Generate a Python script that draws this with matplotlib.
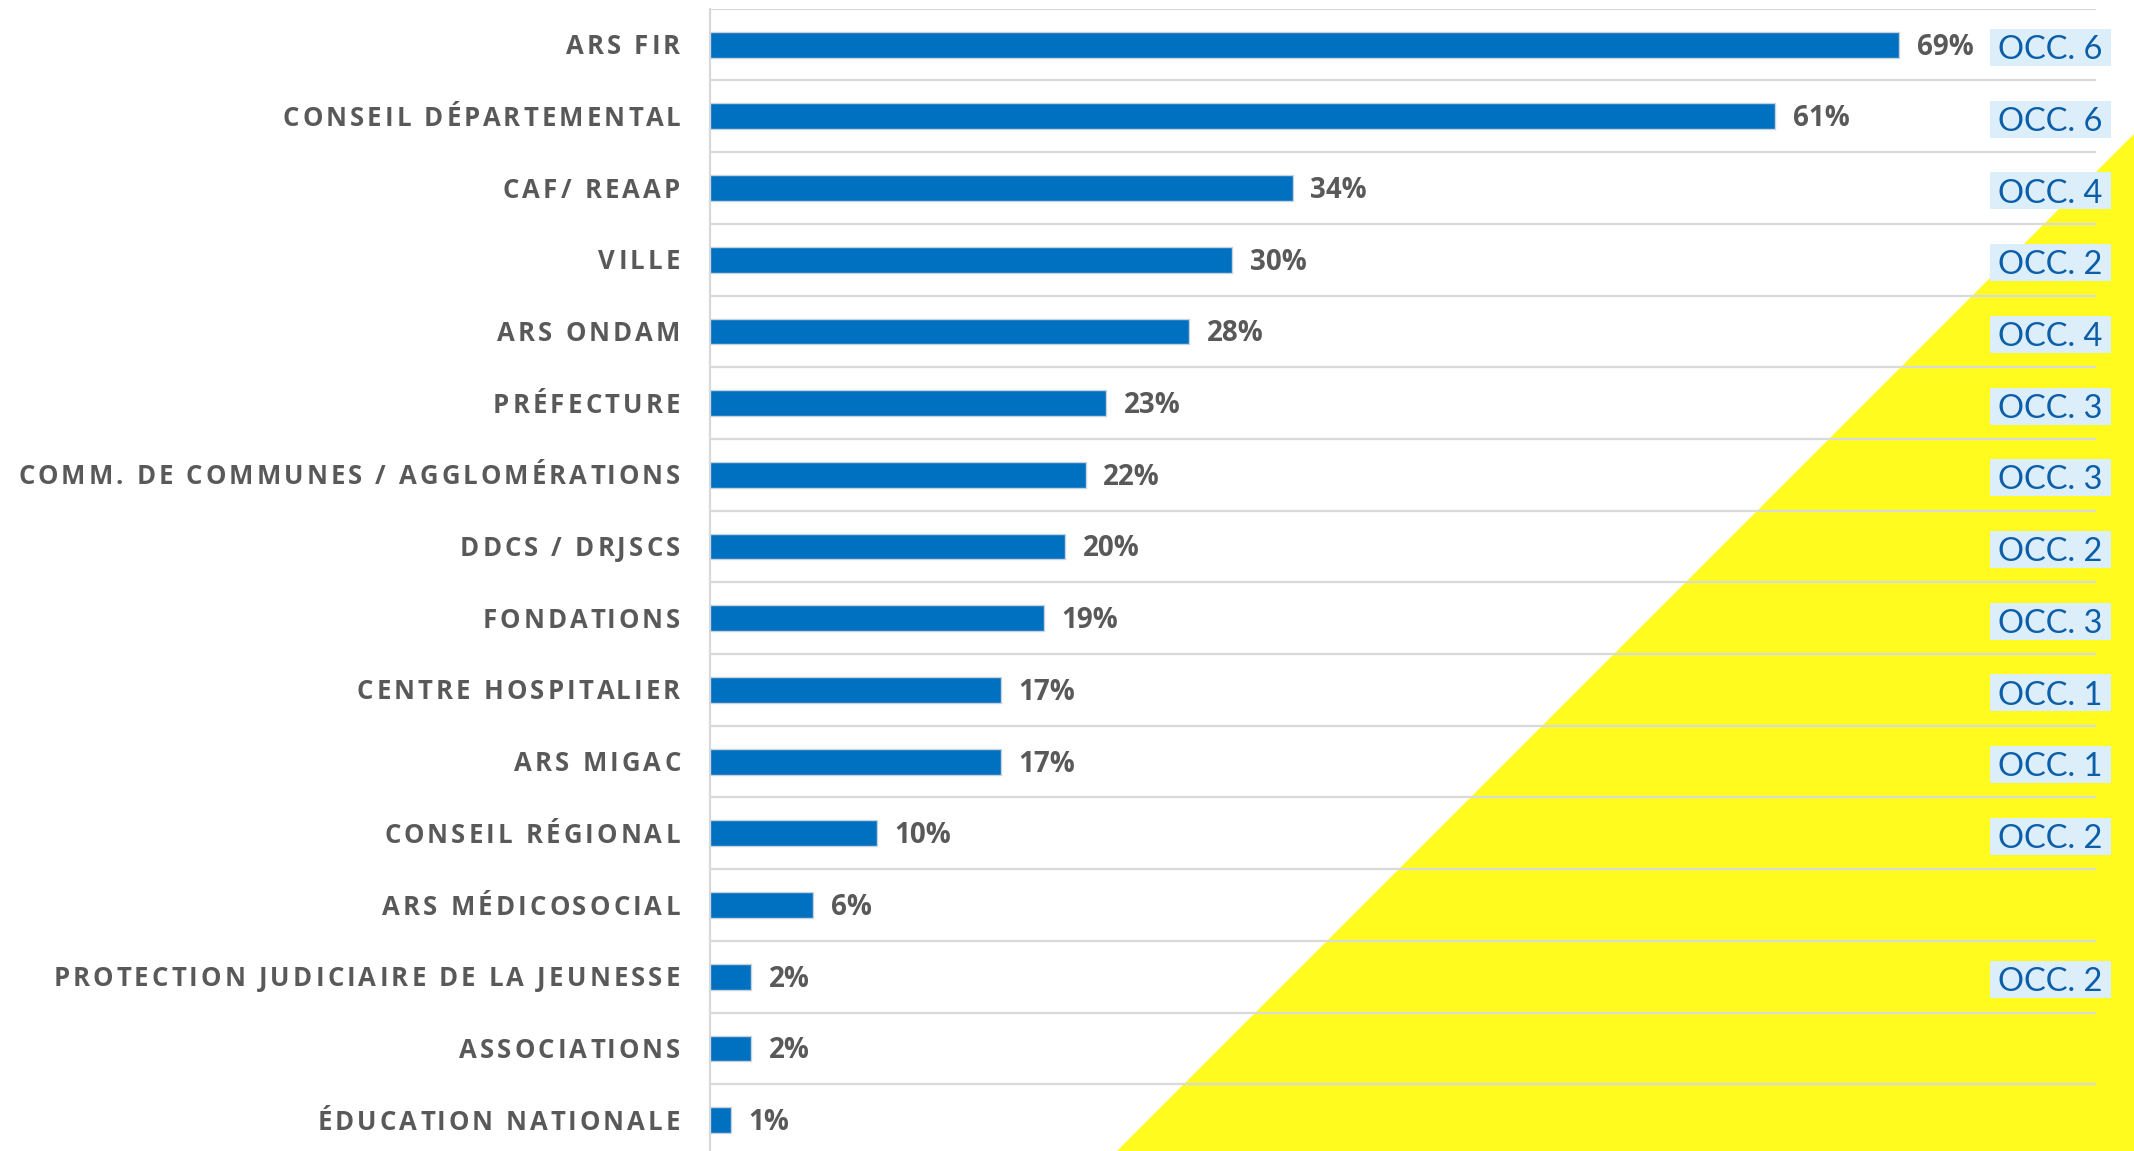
import numpy as np
import matplotlib
matplotlib.use('Agg')
import matplotlib.pyplot as plt
from matplotlib.font_manager import FontProperties
from matplotlib.patches import Polygon, Rectangle
from matplotlib.transforms import blended_transform_factory

labels = ['ARS FIR', 'CONSEIL DÉPARTEMENTAL', 'CAF/ REAAP', 'VILLE', 'ARS ONDAM',
          'PRÉFECTURE', 'COMM. DE COMMUNES / AGGLOMÉRATIONS', 'DDCS / DRJSCS',
          'FONDATIONS', 'CENTRE HOSPITALIER', 'ARS MIGAC', 'CONSEIL RÉGIONAL',
          'ARS MÉDICOSOCIAL', 'PROTECTION JUDICIAIRE DE LA JEUNESSE',
          'ASSOCIATIONS', 'ÉDUCATION NATIONALE']
# bar lengths as measured on the chart, and the rounded labels it prints
values = [69.0, 61.8, 33.8, 30.3, 27.8, 23.0, 21.8, 20.6, 19.4, 16.9, 16.9, 9.7, 6.0, 2.4, 2.4, 1.2]
pct_labels = [69, 61, 34, 30, 28, 23, 22, 20, 19, 17, 17, 10, 6, 2, 2, 1]
occ = [6, 6, 4, 2, 4, 3, 3, 2, 3, 1, 1, 2, None, 2, None, None]

W, H = 2134, 1151
GREY = '#595959'
fig = plt.figure(figsize=(W / 100, H / 100), dpi=100)

# yellow corner behind everything
fig.add_artist(Polygon([(1117 / W, 0), (1, 0), (1, 1 - 134 / H)], closed=True,
                       transform=fig.transFigure, fc='#FFFB1F', ec='none', zorder=-1))

ax = fig.add_axes([710 / W, 1 - 1156 / H, 1386 / W, 1147.2 / H])
ax.patch.set_alpha(0)
n = len(labels)
y = np.arange(n)
xmax = 80.4

ax.barh(y, values, height=0.36, color='#0070C0', edgecolor='#C8D2DC', linewidth=1, zorder=3)
ax.hlines(np.arange(n + 1) - 0.5, 0, xmax, color='#D9D9D9', lw=1.6, zorder=1)
ax.set_xlim(0, xmax)
ax.set_ylim(n - 0.5, -0.5)
for s in ['top', 'right', 'bottom']:
    ax.spines[s].set_visible(False)
ax.spines['left'].set_color('#D9D9D9')
ax.spines['left'].set_linewidth(1.6)
ax.set_xticks([])
ax.set_yticks([])

# percent labels
pct_fp = FontProperties(family='Open Sans', weight='bold', size=20)
for i, (v, p) in enumerate(zip(values, pct_labels)):
    ax.annotate(f'{p}%', xy=(v, i), xytext=(12.5, -0.714 * 20 / 2), textcoords='offset points',
                ha='left', va='baseline', fontproperties=pct_fp, color=GREY)

# OCC. tags on the right
occ_fp = FontProperties(family='Lato', size=23.5)
trans = blended_transform_factory(ax.transAxes, ax.transData)
for i, k in enumerate(occ):
    if k is None:
        continue
    ax.add_patch(Rectangle((1280 / 1386, i - 0.258 + 0.04), 121 / 1386, 0.516, transform=trans,
                           fc='#DDEEFB', ec='none', clip_on=False, zorder=4))
    ax.annotate(f'OCC. {k}', xy=(1340 / 1386, i + 0.04), xycoords=('axes fraction', 'data'),
                xytext=(0, -0.72 * 23.5 / 2), textcoords='offset points', ha='center',
                va='baseline', fontproperties=occ_fp, color='#0B5EA8', zorder=5)

# category labels with letter spacing, drawn char by char
fig.canvas.draw()
r = fig.canvas.get_renderer()
cat_fp = FontProperties(family='Open Sans', weight='bold', size=18.5)


def ink_w(s):
    return r.get_text_width_height_descent(s, cat_fp, ismath=False)[0]


def adv(s):
    return ink_w('H' + s + 'H') - ink_w('HH')


ref = labels[6]
track = (662 - adv(ref)) / (len(ref) - 1)
capH = r.get_text_width_height_descent('H', cat_fp, ismath=False)[1]
for i, lab in enumerate(labels):
    yc = ax.transData.transform((0, i))[1]
    base = yc - capH / 2
    x0 = 680 - adv(lab) - track * (len(lab) - 1)
    for k, c in enumerate(lab):
        if c == ' ':
            continue
        xk = x0 + adv(lab[:k]) + k * track
        fig.text(xk / W, base / H, c, fontproperties=cat_fp, color=GREY, ha='left', va='baseline')

fig.savefig('out.png', dpi=100)
